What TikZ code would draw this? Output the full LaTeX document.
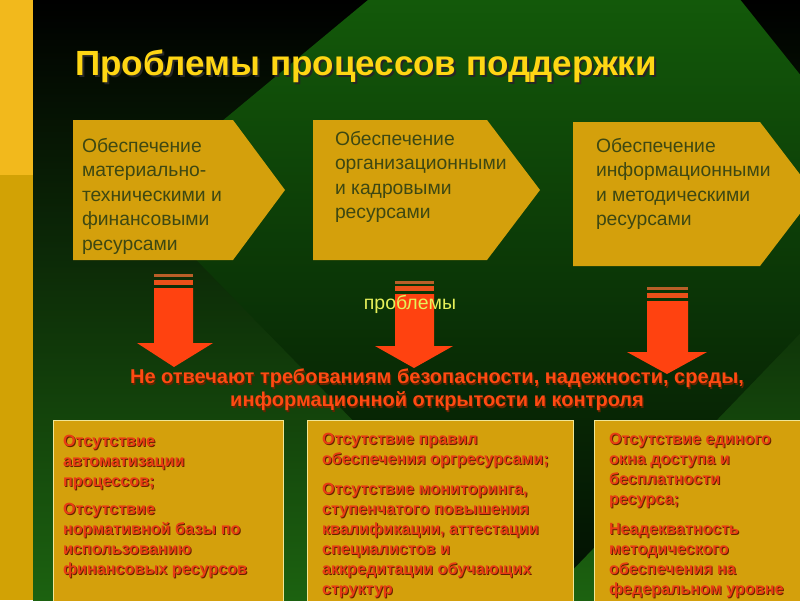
\documentclass[tikz,border=0pt]{standalone}
\usepackage{fontspec}
\setmainfont{Liberation Sans}
\definecolor{barY}{RGB}{242,185,28}
\definecolor{barD}{RGB}{210,162,5}
\definecolor{baseG}{RGB}{28,98,16}
\definecolor{diaTop}{RGB}{24,112,12}
\definecolor{diaMid}{RGB}{8,50,6}
\definecolor{diaBot}{RGB}{2,14,2}
\definecolor{gold}{RGB}{212,160,12}
\definecolor{boxtxt}{RGB}{62,72,18}
\definecolor{arrowR}{RGB}{255,66,16}
\definecolor{stripeA}{RGB}{185,95,40}
\definecolor{stripeB}{RGB}{235,80,25}
\definecolor{titleY}{RGB}{255,214,20}
\definecolor{redT}{RGB}{255,74,18}
\definecolor{redB}{RGB}{232,60,20}
\definecolor{shadowR}{RGB}{100,35,0}
\definecolor{probY}{RGB}{230,240,90}
\definecolor{borderY}{RGB}{240,230,150}
\newcommand\shd[3]{\leavevmode\rlap{\kern#1\raisebox{-#1}{\textcolor{#2}{#3}}}#3}
\newcommand\rl[1]{\shd{1pt}{shadowR}{#1}}
\begin{document}
\begin{tikzpicture}[x=1pt,y=-1pt,
  lbl/.style={inner sep=0pt, outer sep=0pt, align=left, anchor=north west},
  boxtext/.style={lbl, text=boxtxt, font=\fontsize{19.3}{24.5}\selectfont},
  probtext/.style={lbl, text=redB, font=\bfseries\fontsize{16.2}{20}\selectfont},
  goldbox/.style={fill=gold},
  panel/.style={fill=gold, draw=borderY, line width=1pt},
  arrowfill/.style={fill=arrowR},
]
\useasboundingbox (0,0) rectangle (800,600);
% background
\fill[barY] (0,0) rectangle (33,175);
\fill[barD] (0,175) rectangle (33,600);
\shade[top color=black, bottom color=baseG] (33,0) rectangle (800,600);
\begin{scope}
\clip (33,0) rectangle (800,600);
\shade[top color=diaTop, middle color=diaMid, bottom color=diaBot] (592,-186) -- (913,216) -- (536,608) -- (133,195) -- cycle;
\end{scope}
% title
\node[anchor=base west, inner sep=0pt, text=titleY, font=\bfseries\fontsize{35}{40}\selectfont] (title) at (75,75) {\shd{2pt}{black!85}{Проблемы процессов поддержки}};
% arrow boxes
\fill[goldbox] (73,120) -- (233,120) -- (285,190) -- (233,260) -- (73,260) -- cycle;
\fill[goldbox] (313,120) -- (487,120) -- (540,190) -- (487,260) -- (313,260) -- cycle;
\fill[goldbox] (573,122) -- (760,122) -- (815,194) -- (760,266) -- (573,266) -- cycle;
\node[boxtext] (b1) at (82,138) {Обеспечение\\материально-\\техническими и\\финансовыми\\ресурсами};
\node[boxtext] (b2) at (335,131) {Обеспечение\\организационными\\и кадровыми\\ресурсами};
\node[boxtext] (b3) at (596,138) {Обеспечение\\информационными\\и методическими\\ресурсами};
% red arrows
\fill[stripeA] (154,274) rectangle (193,277);
\fill[stripeB] (154,280) rectangle (193,285);
\fill[arrowfill] (154,288) -- (193,288) -- (193,343) -- (213,343) -- (174,367) -- (137,343) -- (154,343) -- cycle;
\fill[stripeA] (395,281) rectangle (434,284);
\fill[stripeB] (395,286) rectangle (434,291);
\fill[arrowfill] (395,294) -- (434,294) -- (434,346) -- (453,346) -- (414,368) -- (375,346) -- (395,346) -- cycle;
\fill[stripeA] (647,287) rectangle (688,290);
\fill[stripeB] (647,293) rectangle (688,298);
\fill[arrowfill] (647,301) -- (688,301) -- (688,352) -- (707,352) -- (667,374) -- (627,352) -- (647,352) -- cycle;
\node[anchor=base, inner sep=0pt, text=probY, font=\fontsize{19.5}{22}\selectfont] (prob) at (410,309) {проблемы};
% middle text
\node[inner sep=0pt, anchor=north, align=center, text=redT, font=\bfseries\fontsize{20}{23}\selectfont] (req) at (437,369)
 {\shd{1.2pt}{shadowR}{Не отвечают требованиям безопасности, надежности, среды,}\\\shd{1.2pt}{shadowR}{информационной открытости и контроля}};
% bottom panels
\draw[panel] (53,420) rectangle (283,606);
\draw[panel] (307,420) rectangle (573,606);
\draw[panel] (594,420) rectangle (806,606);
\node[probtext] (p1) at (63,435.5) {\rl{Отсутствие}\\\rl{автоматизации}\\\rl{процессов;}\\[8pt]\rl{Отсутствие}\\\rl{нормативной базы по}\\\rl{использованию}\\\rl{финансовых ресурсов}};
\node[probtext] (p2) at (322,433.5) {\rl{Отсутствие правил}\\\rl{обеспечения оргресурсами;}\\[10pt]\rl{Отсутствие мониторинга,}\\\rl{ступенчатого повышения}\\\rl{квалификации, аттестации}\\\rl{специалистов и}\\\rl{аккредитации обучающих}\\\rl{структур}};
\node[probtext] (p3) at (609,433.5) {\rl{Отсутствие единого}\\\rl{окна доступа и}\\\rl{бесплатности}\\\rl{ресурса;}\\[10pt]\rl{Неадекватность}\\\rl{методического}\\\rl{обеспечения на}\\\rl{федеральном уровне}};
\end{tikzpicture}
\end{document}
